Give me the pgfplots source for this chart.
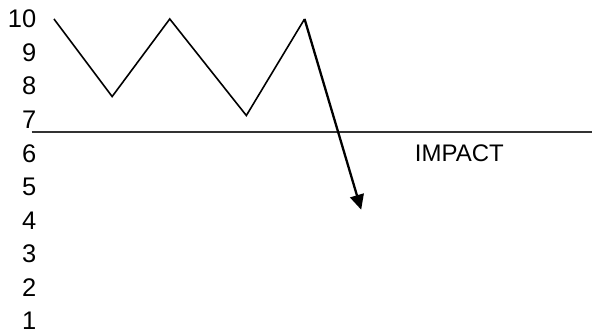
\documentclass[border=0pt]{standalone}
\usepackage{pgfplots}
\pgfplotsset{compat=1.18}
\usepackage{fontspec}
\setmainfont{Liberation Sans}
\usetikzlibrary{arrows.meta}
\begin{document}
\begin{tikzpicture}
\begin{axis}[
  scale only axis,
  width=593bp, height=333bp,
  xmin=0, xmax=593,
  ymin=0.663, ymax=10.565,
  axis line style={draw=none},
  tick style={draw=none},
  xtick=\empty,
  ytick={1,2,3,4,5,6,7,8,9,10},
  tick label style={font=\fontsize{25.5bp}{28bp}\selectfont},
  yticklabel style={anchor=east, inner sep=0pt, xshift=36.5bp},
  /pgf/number format/assume math mode=true,
  clip=false,
]
% impact line
\addplot[draw=black!80, line width=1.7bp] coordinates {(31.7,6.63) (593,6.63)};
% zigzag
\addplot[black, line width=1.6bp, line join=miter] coordinates {
  (54,10) (112.3,7.69) (170,10) (246.7,7.125) (305,10)
};
% arrow
\addplot[black, line width=2.3bp, -{Triangle[length=15bp,width=14bp]}] coordinates {
  (305,10) (361.7,4.32)
};
\node[font=\fontsize{24bp}{28bp}\selectfont] at (axis cs:460,5.99) {IMPACT};
\end{axis}
\end{tikzpicture}
\end{document}
